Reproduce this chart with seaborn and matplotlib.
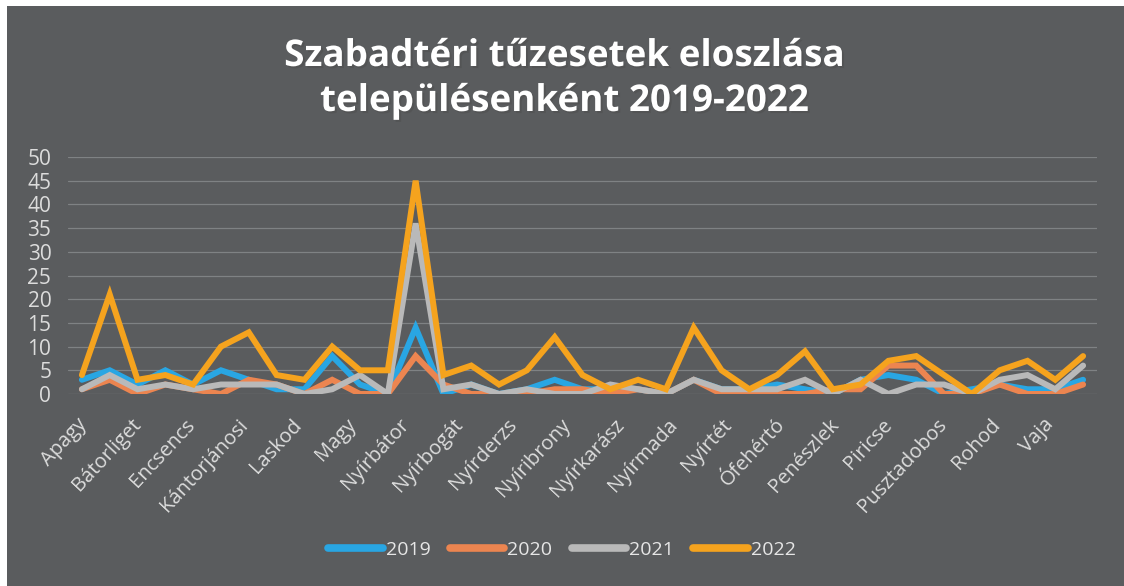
import matplotlib
matplotlib.use("Agg")
import matplotlib.pyplot as plt
import pandas as pd
import seaborn as sns
from matplotlib.patches import Rectangle
from matplotlib.transforms import ScaledTranslation
import matplotlib.patheffects as pe

telepulesek = ["Apagy", "Baktalórántháza", "Bátorliget", "Besenyőd", "Encsencs",
               "Kállósemjén", "Kántorjánosi", "Kisléta", "Laskod", "Levelek",
               "Magy", "Máriapócs", "Nyírbátor", "Nyírbéltek", "Nyírbogát",
               "Nyírcsászári", "Nyírderzs", "Nyírgelse", "Nyíribrony", "Nyírjákó",
               "Nyírkarász", "Nyírlugos", "Nyírmada", "Nyírpilis", "Nyírtét",
               "Nyírvasvári", "Ófehértó", "Őr", "Penészlek", "Petneháza",
               "Piricse", "Pócspetri", "Pusztadobos", "Ramocsaháza", "Rohod",
               "Terem", "Vaja"]

ev2019 = [3, 5, 2, 5, 2, 5, 3, 1, 1, 8, 2, 0, 14, 0, 2, 0, 1, 3, 1, 1,
          1, 0, 3, 1, 1, 2, 1, 0, 3, 4, 3, 0, 1, 2, 1, 1, 3]
ev2020 = [1, 3, 0, 2, 1, 0, 3, 2, 0, 3, 0, 0, 8, 2, 0, 0, 0, 1, 1, 0,
          1, 0, 3, 0, 0, 0, 0, 1, 1, 6, 6, 0, 0, 2, 0, 0, 2]
ev2021 = [1, 4, 1, 2, 1, 2, 2, 2, 0, 1, 4, 0, 36, 1, 2, 0, 1, 0, 0, 2,
          1, 0, 3, 1, 1, 1, 3, 0, 3, 0, 2, 2, 0, 3, 4, 1, 6]
ev2022 = [4, 21, 3, 4, 2, 10, 13, 4, 3, 10, 5, 5, 45, 4, 6, 2, 5, 12, 4, 1,
          3, 1, 14, 5, 1, 4, 9, 1, 2, 7, 8, 4, 0, 5, 7, 3, 8]

evek = ["2019", "2020", "2021", "2022"]
szinek = ["#29a6e3", "#ec8550", "#b9b9b9", "#f5a31e"]

df = pd.DataFrame({"telepules": telepulesek,
                   "2019": ev2019, "2020": ev2020, "2021": ev2021, "2022": ev2022})
df["x"] = range(len(df))
long = df.melt(id_vars=["telepules", "x"], value_vars=evek,
               var_name="ev", value_name="db")

sns.set_theme(style="dark")
plt.rcParams["font.family"] = ["Open Sans", "DejaVu Sans"]

bg = "#5a5c5e"
fig = plt.figure(figsize=(11.24, 5.86), dpi=100, facecolor="white")
fig.patches.append(Rectangle((7 / 1124, 0), 1, 1 - 6 / 586, transform=fig.transFigure,
                             facecolor=bg, edgecolor="none", zorder=-5))
ax = fig.add_axes([68 / 1124, 1 - 394 / 586, (1097 - 68) / 1124, (394 - 157) / 586])
ax.set_facecolor(bg)
ax.set_zorder(2)

sns.lineplot(data=long, x="x", y="db", hue="ev", palette=szinek, linewidth=4.3,
             ax=ax, legend=True, solid_capstyle="round", solid_joinstyle="miter")

ax.set_xlim(-0.5, len(telepulesek) - 0.5)
ax.set_ylim(0, 50)
ax.set_yticks(range(0, 51, 5))
ax.set_xticks(range(0, len(telepulesek), 2))
ax.set_xticklabels(telepulesek[::2], rotation=47, ha="right", rotation_mode="anchor")
ax.tick_params(axis="y", colors="#dcdcdc", labelsize=15, pad=12, length=0)
ax.tick_params(axis="x", colors="#dcdcdc", labelsize=14.5, pad=15, length=0)
ax.grid(axis="y", color="#7f8284", linewidth=0.9)
ax.grid(axis="x", visible=False)
for s in ax.spines.values():
    s.set_visible(False)
ax.set_xlabel("")
ax.set_ylabel("")

# the labels in the original drift a little to the left of their points
n = len(ax.get_xticklabels())
for i, lbl in enumerate(ax.get_xticklabels()):
    dx = -(5 + 35 * i / (n - 1)) / 100
    lbl.set_transform(lbl.get_transform() + ScaledTranslation(dx, 0, fig.dpi_scale_trans))

leg = ax.legend(loc="center", bbox_to_anchor=(0.5, (586 - 550) / 586), ncol=4,
                frameon=False, fontsize=14, handlelength=2.8, columnspacing=1.0,
                handletextpad=0.15, bbox_transform=fig.transFigure)
for t in leg.get_texts():
    t.set_color("#e6e6e6")
for h in leg.get_lines():
    h.set_linewidth(5.5)

arny = [pe.withSimplePatchShadow(offset=(1.5, -1.5), alpha=0.5)]
fig.text(0.502, 1 - 56 / 586, "Szabadtéri tűzesetek eloszlása", ha="center", va="center",
         color="white", fontsize=26.5, fontweight="bold", path_effects=arny)
fig.text(0.502, 1 - 101 / 586, "településenként 2019-2022", ha="center", va="center",
         color="white", fontsize=26.5, fontweight="bold", path_effects=arny)

fig.savefig("out.png", dpi=100, facecolor=fig.get_facecolor())
